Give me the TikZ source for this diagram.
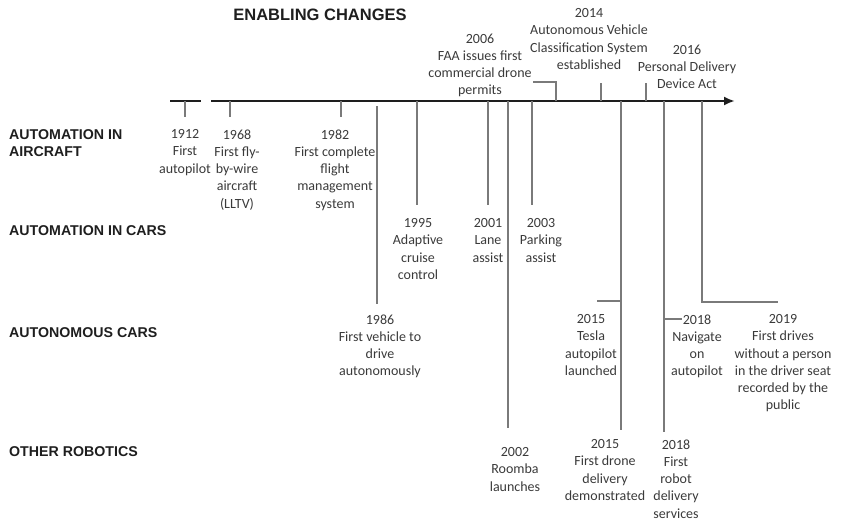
\documentclass[tikz,border=0pt]{standalone}
\usepackage{fontspec}
\setmainfont{Carlito}
\newfontfamily\headfont{Liberation Sans}
\usetikzlibrary{arrows.meta, positioning}
\definecolor{tlInk}{HTML}{1E1E1E}
\definecolor{tlText}{HTML}{3A3A3A}
\definecolor{tlGrey}{HTML}{7A7A7A}

\begin{document}
\begin{tikzpicture}[
  x=1pt, y=-1pt,
  font=\fontsize{14}{17.2}\selectfont,
  evt/.style={align=center, inner sep=0pt, anchor=north, text=tlText},
  row/.style={align=left, inner sep=0pt, anchor=west, text=tlInk,
              font=\headfont\bfseries\fontsize{14.2}{16.5}\selectfont},
  axis/.style={draw=tlInk, line width=2.6pt},
  tick/.style={draw=tlGrey, line width=1.5pt},
]
\useasboundingbox (0,0) rectangle (841,522);

\node[text=tlInk, font=\headfont\bfseries\fontsize{16.5}{20}\selectfont] (title) at (320,14.5) {ENABLING CHANGES};

\node[row, anchor=north west] (rowAir) at (9,129.5) {AUTOMATION IN\\AIRCRAFT};
\node[row] (rowCars) at (9,231) {AUTOMATION IN CARS};
\node[row] (rowAuto) at (9,333) {AUTONOMOUS CARS};
\node[row] (rowOther) at (9,452) {OTHER ROBOTICS};

% time axis
\coordinate (l0) at (170,101);
\coordinate (l1) at (201,101);
\coordinate (m0) at (211,101);
\coordinate (m1) at (735,101);
\draw[axis] (l0) -- (l1);
\draw[axis, -{Latex[length=11pt, width=9pt]}] (m0) -- (m1);

\foreach \yr/\xx in {1912/185, 1968/230, 1982/341, 1986/377, 1995/417, 2001/488, 2002/508,
                     2003/532, 2006/556, 2014/601, 2016/646, 2015/621, 2018/664, 2019/702}
  \coordinate (a\yr) at (\xx,101);

\node[evt] (e1912) at (185,129.5) {1912\\First\\autopilot};
\node[evt] (e1968) at (237,129.5) {1968\\First fly-\\by-wire\\aircraft\\(LLTV)};
\node[evt] (e1982) at (335,129.5) {1982\\First complete\\flight\\management\\system};
\node[evt] (e1995) at (418,218.5) {1995\\Adaptive\\cruise\\control};
\node[evt] (e2001) at (488,218.5) {2001\\Lane\\assist};
\node[evt] (e2003) at (541,218.5) {2003\\Parking\\assist};
\node[evt] (e1986) at (380,314.5) {1986\\First vehicle to\\drive\\autonomously};
\node[evt] (e2015t) at (591,314.5) {2015\\Tesla\\autopilot\\launched};
\node[evt] (e2018n) at (697,314.5) {2018\\Navigate\\on\\autopilot};
\node[evt] (e2019) at (783,314.5) {2019\\First drives\\without a person\\in the driver seat\\recorded by the\\public};
\node[evt] (e2002) at (515,447.5) {2002\\Roomba\\launches};
\node[evt] (e2015d) at (605,439.5) {2015\\First drone\\delivery\\demonstrated};
\node[evt] (e2018r) at (676,439.5) {2018\\First\\robot\\delivery\\services};
\node[evt] (e2006) at (480,33.5) {2006\\FAA issues first\\commercial drone\\permits};
\node[evt] (e2014) at (589,8.5) {2014\\Autonomous Vehicle\\Classification System\\established};
\node[evt] (e2016) at (687,44.5) {2016\\Personal Delivery\\Device Act};

\coordinate (k2006) at (533,82);
\coordinate (k2015) at (597,301);
\coordinate (k2018) at (682,319);
\coordinate (k2019) at (778,302);

\draw[tick, shorten >=12.5pt] (a1912) -- (a1912 |- e1912.north);
\draw[tick, shorten >=12.5pt] (a1968) -- (a1968 |- e1968.north);
\draw[tick, shorten >=12.5pt] (a1982) -- (a1982 |- e1982.north);
\draw[tick, shorten <=5pt, shorten >=10.5pt] (a1986) -- (a1986 |- e1986.north);
\draw[tick, shorten >=13.5pt] (a1995) -- (a1995 |- e1995.north);
\draw[tick, shorten >=13.5pt] (a2001) -- (a2001 |- e2001.north);
\draw[tick, shorten >=13.5pt] (a2003) -- (a2003 |- e2003.north);
\draw[tick, shorten >=19.5pt] (a2002) -- (a2002 |- e2002.north);
\draw[tick, shorten >=9.5pt] (a2015) -- (a2015 |- e2015d.north);
\draw[tick] (a2015 |- k2015) -- (k2015);
\draw[tick, shorten >=7.5pt] (a2018) -- (a2018 |- e2018r.north);
\draw[tick] (a2018 |- k2018) -- (k2018);
\draw[tick] (a2019) |- (k2019);
\draw[tick] (a2006) |- (k2006);
\draw[tick, shorten >=13pt] (a2014) -- (a2014 |- e2014.south);
\draw[tick, shorten >=-5.8pt] (a2016) -- (a2016 |- e2016.south);
\end{tikzpicture}
\end{document}
